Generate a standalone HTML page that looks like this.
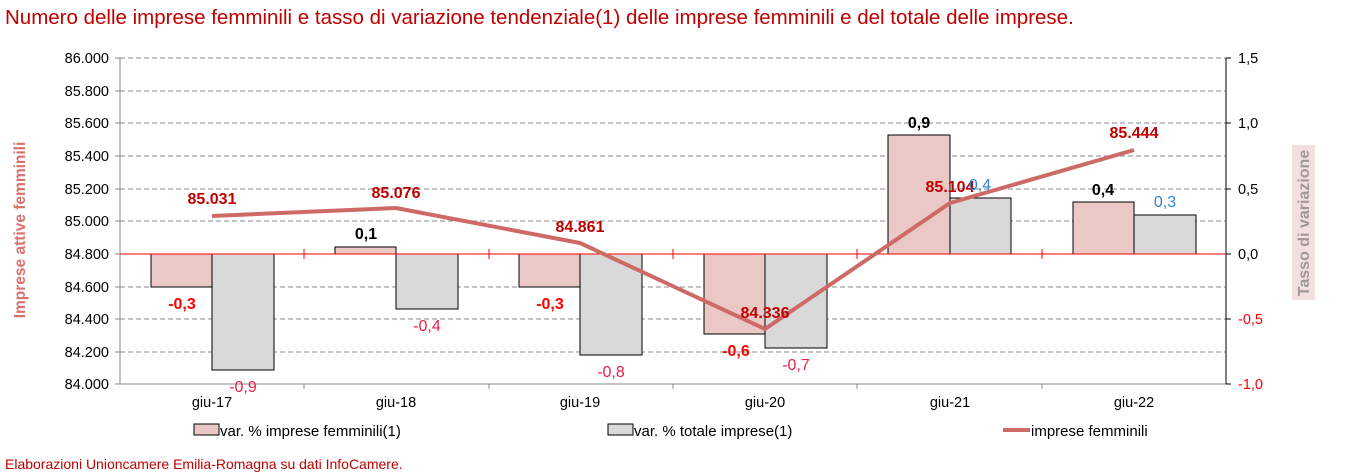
<!DOCTYPE html>
<html><head><meta charset="utf-8"><style>
body{margin:0;background:#fff;}
svg{display:block;font-family:"Liberation Sans",Arial,sans-serif;}
</style></head><body>
<svg width="1349" height="474" viewBox="0 0 1349 474">
<text x="5" y="24" font-size="20.5" fill="#c00000">Numero delle imprese femminili e tasso di variazione tendenziale(1) delle imprese femminili e del totale delle imprese.</text>
<g stroke="#888" stroke-dasharray="5,3" stroke-width="1">
<line x1="120" y1="58" x2="1226" y2="58"/><line x1="120" y1="91" x2="1226" y2="91"/><line x1="120" y1="123" x2="1226" y2="123"/><line x1="120" y1="156" x2="1226" y2="156"/><line x1="120" y1="189" x2="1226" y2="189"/><line x1="120" y1="221" x2="1226" y2="221"/><line x1="120" y1="287" x2="1226" y2="287"/><line x1="120" y1="319" x2="1226" y2="319"/><line x1="120" y1="352" x2="1226" y2="352"/>
</g>
<g stroke="#888"><line x1="120" y1="58" x2="120" y2="384"/><line x1="115" y1="384" x2="1226" y2="384"/>
<line x1="115" y1="58" x2="120" y2="58"/><line x1="115" y1="91" x2="120" y2="91"/><line x1="115" y1="123" x2="120" y2="123"/><line x1="115" y1="156" x2="120" y2="156"/><line x1="115" y1="189" x2="120" y2="189"/><line x1="115" y1="221" x2="120" y2="221"/><line x1="115" y1="254" x2="120" y2="254"/><line x1="115" y1="287" x2="120" y2="287"/><line x1="115" y1="319" x2="120" y2="319"/><line x1="115" y1="352" x2="120" y2="352"/>
<line x1="304" y1="384" x2="304" y2="389"/><line x1="489" y1="384" x2="489" y2="389"/><line x1="673" y1="384" x2="673" y2="389"/><line x1="857" y1="384" x2="857" y2="389"/><line x1="1042" y1="384" x2="1042" y2="389"/></g>
<g stroke="#000"><line x1="1226" y1="58" x2="1226" y2="384"/>
<line x1="1226" y1="58" x2="1231" y2="58"/><line x1="1226" y1="123" x2="1231" y2="123"/><line x1="1226" y1="189" x2="1231" y2="189"/><line x1="1226" y1="254" x2="1231" y2="254"/><line x1="1226" y1="319" x2="1231" y2="319"/><line x1="1226" y1="384" x2="1231" y2="384"/></g>
<g font-size="14.5" fill="#000" text-anchor="end">
<text x="109" y="63">86.000</text><text x="109" y="96">85.800</text><text x="109" y="128">85.600</text><text x="109" y="161">85.400</text><text x="109" y="194">85.200</text><text x="109" y="226">85.000</text><text x="109" y="259">84.800</text><text x="109" y="292">84.600</text><text x="109" y="324">84.400</text><text x="109" y="357">84.200</text><text x="109" y="389">84.000</text>
</g>
<g font-size="14.5">
<text x="1238" y="63">1,5</text><text x="1238" y="128">1,0</text><text x="1238" y="194">0,5</text><text x="1238" y="259">0,0</text><text x="1238" y="324" fill="#f00">-0,5</text><text x="1238" y="389" fill="#f00">-1,0</text>
</g>
<g font-size="14.5" text-anchor="middle">
<text x="212" y="407">giu-17</text><text x="396" y="407">giu-18</text><text x="580" y="407">giu-19</text><text x="765" y="407">giu-20</text><text x="950" y="407">giu-21</text><text x="1134" y="407">giu-22</text>
</g>
<text transform="translate(25,230) rotate(-90)" font-size="15.5" font-weight="bold" fill="#d9706a" text-anchor="middle">Imprese attive femminili</text>
<rect x="1292" y="145" width="23" height="155" fill="#f3e0de"/>
<text transform="translate(1309,223) rotate(-90)" font-size="16" font-weight="bold" fill="#a09898" text-anchor="middle">Tasso di variazione</text>
<g stroke="#000" stroke-width="1">
<rect x="151" y="254" width="61" height="33" fill="#eac8c6"/><rect x="212" y="254" width="62" height="116" fill="#d9d9d9"/>
<rect x="335" y="247" width="61" height="7" fill="#eac8c6"/><rect x="396" y="254" width="62" height="55" fill="#d9d9d9"/>
<rect x="519" y="254" width="61" height="33" fill="#eac8c6"/><rect x="580" y="254" width="62" height="101" fill="#d9d9d9"/>
<rect x="704" y="254" width="61" height="80" fill="#eac8c6"/><rect x="765" y="254" width="62" height="94" fill="#d9d9d9"/>
<rect x="888" y="135" width="62" height="119" fill="#eac8c6"/><rect x="950" y="198" width="61" height="56" fill="#d9d9d9"/>
<rect x="1073" y="202" width="61" height="52" fill="#eac8c6"/><rect x="1134" y="215" width="62" height="39" fill="#d9d9d9"/>
</g>
<g stroke="#f00"><line x1="120" y1="254" x2="1226" y2="254"/>
<line x1="304" y1="249" x2="304" y2="259"/><line x1="489" y1="249" x2="489" y2="259"/><line x1="673" y1="249" x2="673" y2="259"/><line x1="857" y1="249" x2="857" y2="259"/><line x1="1042" y1="249" x2="1042" y2="259"/></g>
<polyline points="212,216 396,208 580,243 765,329 950,203 1134,150" fill="none" stroke="#cd6a65" stroke-width="4" stroke-linejoin="round"/>
<g font-size="16" font-weight="bold" fill="#c00000" text-anchor="middle">
<text x="212" y="204">85.031</text><text x="396" y="198">85.076</text><text x="580" y="232">84.861</text><text x="765" y="318">84.336</text><text x="950" y="192">85.104</text><text x="1134" y="138">85.444</text>
</g>
<g font-size="16" font-weight="bold" text-anchor="middle">
<text x="182" y="309" fill="#f00">-0,3</text><text x="366" y="239" fill="#000">0,1</text><text x="550" y="309" fill="#f00">-0,3</text><text x="736" y="356" fill="#f00">-0,6</text><text x="919" y="128" fill="#000">0,9</text><text x="1103" y="195" fill="#000">0,4</text>
</g>
<g font-size="16" text-anchor="middle">
<text x="243" y="392" fill="#e8204a">-0,9</text><text x="427" y="331" fill="#e8204a">-0,4</text><text x="611" y="377" fill="#e8204a">-0,8</text><text x="796" y="370" fill="#e8204a">-0,7</text><text x="980" y="190" fill="#2e86d0">0,4</text><text x="1165" y="207" fill="#2e86d0">0,3</text>
</g>
<rect x="194" y="424" width="25" height="11" fill="#eac8c6" stroke="#000"/>
<text x="220" y="436" font-size="15">var. % imprese femminili(1)</text>
<rect x="608" y="424" width="25" height="11" fill="#d9d9d9" stroke="#000"/>
<text x="634" y="436" font-size="15">var. % totale imprese(1)</text>
<line x1="1003" y1="430" x2="1030" y2="430" stroke="#cd6a65" stroke-width="4"/>
<text x="1031" y="436" font-size="15">imprese femminili</text>
<text x="5" y="469" font-size="14" fill="#c00000">Elaborazioni Unioncamere Emilia-Romagna su dati InfoCamere.</text>
</svg>
</body></html>
